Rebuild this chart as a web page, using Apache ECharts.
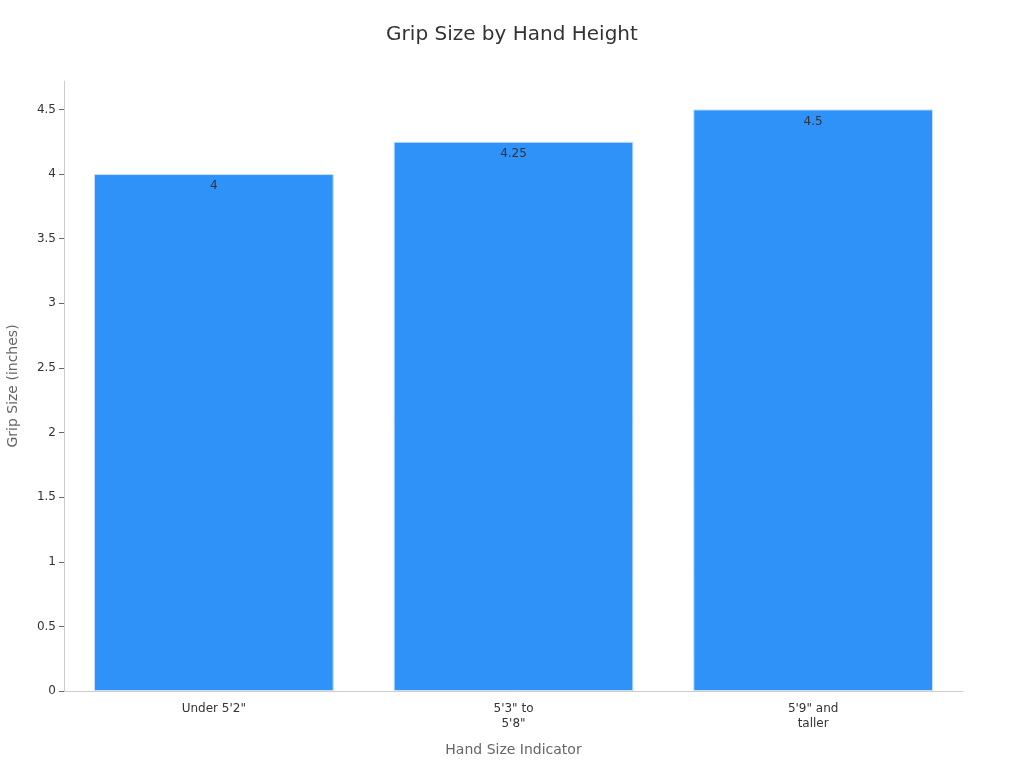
<!DOCTYPE html>
<html>
<head>
<meta charset="utf-8">
<script src="https://cdn.jsdelivr.net/npm/echarts@6/dist/echarts.min.js"></script>
<style>
  html, body { margin: 0; padding: 0; background: #fff; }
  #chart { width: 1024px; height: 768px; }
</style>
</head>
<body>
<div id="chart"></div>
<script>
// chart data
const categories = ['Under 5\'2"', '5\'3" to 5\'8"', '5\'9" and taller'];
const gripSizes = [4, 4.25, 4.5];

const chart = echarts.init(document.getElementById('chart'));

chart.setOption({
    title: {
        text: 'Grip Size by Hand Height',
        left: 'center',
        top: 20,
        textStyle: { fontFamily: 'DejaVu Sans', fontSize: 20, fontWeight: 'normal', color: '#333' }
    },
    grid: { left: 64, right: 61, top: 81, bottom: 77, outerBoundsMode: 'none' },
    xAxis: {
        type: 'category',
        data: categories,
        name: 'Hand Size Indicator',
        nameLocation: 'middle',
        nameGap: 52,
        nameTextStyle: { fontFamily: 'DejaVu Sans', fontSize: 14, color: '#666' },
        axisLine: { lineStyle: { color: '#ccc' } },
        axisTick: { alignWithLabel: true, lineStyle: { color: '#666' } },
        axisLabel: {
            fontFamily: 'DejaVu Sans', fontSize: 12, color: '#333', margin: 10, lineHeight: 15,
            // wrap the longer labels the way the reference does
            formatter: v => v.replace(/ (to|and) /, ' $1\n')
        }
    },
    yAxis: {
        type: 'value',
        min: 0,
        max: 4.72,
        interval: 0.5,
        name: 'Grip Size (inches)',
        nameLocation: 'middle',
        nameGap: 44,
        nameTextStyle: { fontFamily: 'DejaVu Sans', fontSize: 14, color: '#666' },
        axisLine: { show: true, lineStyle: { color: '#ccc' } },
        axisTick: { show: true, lineStyle: { color: '#666' } },
        axisLabel: { fontFamily: 'DejaVu Sans', fontSize: 12, color: '#333', showMaxLabel: false },
        splitLine: { show: false }
    },
    series: [{
        type: 'bar',
        data: gripSizes,
        barWidth: '80%',
        itemStyle: { color: '#2e92f8', borderColor: '#c8e0fb', borderWidth: 1 },
        label: {
            show: true,
            position: 'insideTop',
            distance: 6,
            fontFamily: 'DejaVu Sans',
            fontSize: 12,
            color: '#333'
        }
    }]
});
</script>
</body>
</html>
